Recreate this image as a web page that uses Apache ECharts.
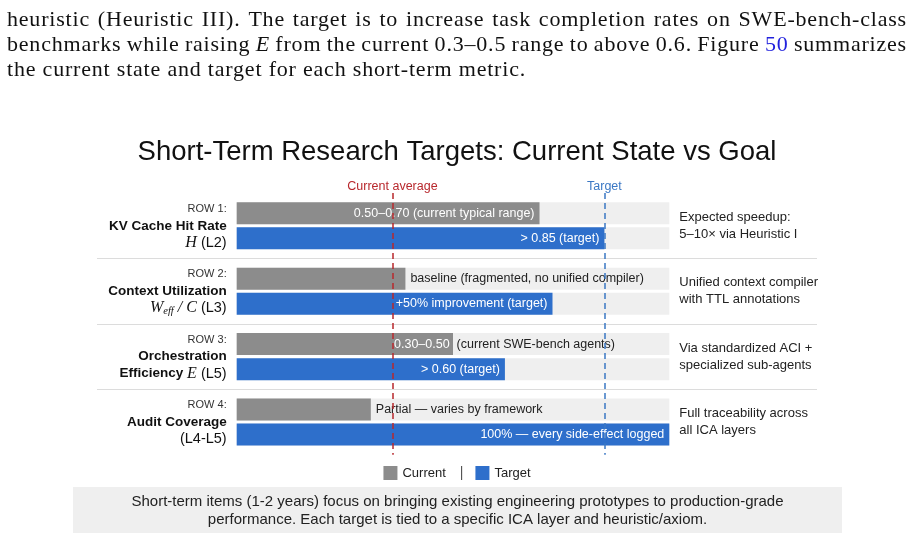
<!DOCTYPE html>
<html><head><meta charset="utf-8">
<script src="https://cdn.jsdelivr.net/npm/echarts@6/dist/echarts.min.js"></script>
<style>
html,body{margin:0;padding:0;background:#fff;}
#wrap{position:relative;width:914px;height:540px;overflow:hidden;}
#chart{position:absolute;left:0;top:0;width:914px;height:540px;}
#para{position:absolute;left:7px;top:6px;width:900px;font-family:'Liberation Serif','Times New Roman',serif;font-size:22px;line-height:25px;color:#111;letter-spacing:0.8px;}
.ln{display:flex;justify-content:space-between;white-space:nowrap;}
.ln3{white-space:nowrap;}
.fig{color:#2222dd;}
</style>
</head><body>
<div id="wrap">
<div id="chart"></div>
<div id="para"></div>
</div>
<script>
// ---- data ----
const categories = ['ROW 1', 'ROW 2', 'ROW 3', 'ROW 4'];
const rowTags = ['ROW 1:', 'ROW 2:', 'ROW 3:', 'ROW 4:'];
const rowTitles = ['KV Cache Hit Rate', 'Context Utilization', 'Orchestration', 'Audit Coverage'];
const rowSubtitles = ['{m|H}{r| (L2)}', '{m|W}{s|eff}{sl| / }{m|C}{r| (L3)}', '{b|Efficiency }{m|E}{r| (L5)}', '{r|(L4-L5)}'];
const currentValues = [0.70, 0.39, 0.50, 0.31];
const targetValues = [0.85, 0.73, 0.62, 1.00];
const currentInsideText = ['0.50–0.70 (current typical range)', '', '0.30–0.50', ''];
const currentOutsideText = ['', 'baseline (fragmented, no unified compiler)', '(current SWE-bench agents)', 'Partial — varies by framework'];
const targetText = ['> 0.85 (target)', '+50% improvement (target)', '> 0.60 (target)', '100% — every side-effect logged'];
const notes = [
  ['Expected speedup:', '5–10× via Heuristic I'],
  ['Unified context compiler', 'with TTL annotations'],
  ['Via standardized ACI +', 'specialized sub-agents'],
  ['Full traceability across', 'all ICA layers']
];
const currentAverage = 0.356;
const targetLevel = 0.848;
const xMin = 0, xMax = 1;
const titleText = 'Short-Term Research Targets: Current State vs Goal';
const seriesNames = ['Current', 'Target'];
const captionLines = ['Short-term items (1-2 years) focus on bringing existing engineering prototypes to production-grade', 'performance. Each target is tied to a specific ICA layer and heuristic/axiom.'];
const paraLines = [
  'heuristic (Heuristic III). The target is to increase task completion rates on SWE-bench-class',
  'benchmarks while raising <i>E</i> from the current 0.3–0.5 range to above 0.6. Figure <span class="fig">50</span> summarizes'
];
const paraLast = 'the current state and target for each short-term metric.';

// ---- paragraph ----
const para = document.getElementById('para');
paraLines.forEach(l => {
  const d = document.createElement('div'); d.className = 'ln';
  const tokens = l.replace(/<i>E<\/i>/, '§I').replace(/<span class="fig">50<\/span>/, '§F').split(' ');
  tokens.forEach(t => {
    const s = document.createElement('span');
    s.innerHTML = t.replace('§I', '<i>E</i>').replace('§F', '<span class="fig">50</span>');
    d.appendChild(s);
  });
  para.appendChild(d);
});
const d3 = document.createElement('div'); d3.className = 'ln3'; d3.textContent = paraLast; para.appendChild(d3);

// ---- chart ----
const FONT = "'Liberation Sans', Arial, Helvetica, sans-serif";
const GRAY = '#8c8c8c', BLUE = '#2e6fcb', RED = '#b8282d', TBLUE = '#3b78c4';
const chart = echarts.init(document.getElementById('chart'), null, {renderer: 'canvas'});

const currentData = currentValues.map((v, i) => {
  const inside = currentInsideText[i], outside = currentOutsideText[i];
  let label;
  if (inside && outside) {
    label = {show: true, position: ['100%', '50%'], align: 'left', verticalAlign: 'middle', offset: [-59, 0],
      formatter: '{w|' + inside + '}{d|' + outside + '}',
      rich: {w: {color: '#fff', fontSize: 12.5, fontFamily: FONT}, d: {color: '#222', fontSize: 12.5, fontFamily: FONT, padding: [0, 0, 0, 7]}}};
  } else if (inside) {
    label = {show: true, position: 'insideRight', distance: 5, color: '#fff', formatter: inside};
  } else {
    label = {show: true, position: 'right', distance: 5, color: '#222', formatter: outside};
  }
  return {value: v, label: label};
});
const targetData = targetValues.map((v, i) => ({value: v, label: {show: true, position: 'insideRight', distance: 5, color: '#fff', formatter: targetText[i]}}));

const serifM = "'Liberation Serif', 'DejaVu Serif', serif";
const option = {
  animation: false,
  backgroundColor: '#ffffff',
  textStyle: {fontFamily: FONT},
  title: {text: titleText, left: 'center', top: 133, textStyle: {fontSize: 27.5, fontWeight: 'normal', color: '#111', fontFamily: FONT}},
  legend: {
    data: seriesNames, top: 461, left: 'center', icon: 'rect', itemWidth: 14, itemHeight: 14, itemGap: 12,
    textStyle: {fontSize: 13, color: '#222', fontFamily: FONT, rich: {sep: {color: '#555', fontSize: 14, padding: [0, 0, 0, 14]}}},
    formatter: n => n === 'Current' ? 'Current{sep||}' : n
  },
  grid: [
    {left: 236.7, top: 193.1, width: 432.6, height: 261.6},
    {left: 97, top: 193.1, width: 720, height: 261.6}
  ],
  xAxis: [
    {gridIndex: 0, type: 'value', min: xMin, max: xMax, show: false},
    {gridIndex: 1, type: 'value', min: xMin, max: xMax, show: false}
  ],
  yAxis: [
    {gridIndex: 0, type: 'category', data: categories, inverse: true, position: 'left',
      axisLine: {show: false}, axisTick: {show: false}, splitLine: {show: false},
      axisLabel: {margin: 10, align: 'right',
        formatter: (v, i) => '{t|' + rowTags[i] + '}\n{b|' + rowTitles[i] + '}\n' + rowSubtitles[i],
        rich: {
          t: {fontSize: 11, color: '#333', lineHeight: 17, fontFamily: FONT},
          b: {fontSize: 13.5, fontWeight: 'bold', color: '#111', lineHeight: 17, fontFamily: FONT},
          r: {fontSize: 14.5, color: '#111', lineHeight: 17, fontFamily: FONT},
          m: {fontSize: 16, fontStyle: 'italic', color: '#111', lineHeight: 17, fontFamily: serifM},
          s: {fontSize: 10.5, fontStyle: 'italic', color: '#111', lineHeight: 10, verticalAlign: 'bottom', fontFamily: serifM},
          sl: {fontSize: 16, fontStyle: 'italic', color: '#111', lineHeight: 17, fontFamily: serifM}
        }}},
    {gridIndex: 0, type: 'category', data: categories, inverse: true, position: 'right',
      axisLine: {show: false}, axisTick: {show: false}, splitLine: {show: false},
      axisLabel: {margin: 10, align: 'left', fontSize: 13, lineHeight: 17, color: '#222', fontFamily: FONT,
        formatter: (v, i) => notes[i].join('\n')}},
    {gridIndex: 1, type: 'category', data: categories, inverse: true,
      axisLine: {show: false}, axisTick: {show: false}, axisLabel: {show: false},
      splitLine: {show: true, showMinLine: false, showMaxLine: false, lineStyle: {color: '#dcdcdc', width: 1}}}
  ],
  series: [
    {name: 'Current', type: 'bar', xAxisIndex: 0, yAxisIndex: 0, barWidth: 22, barGap: '14%', z: 3,
      showBackground: true, backgroundStyle: {color: '#efefef'},
      itemStyle: {color: GRAY}, label: {fontSize: 12.5, fontFamily: FONT},
      data: currentData,
      markLine: {silent: true, symbol: 'none', animation: false,
        data: [
          {xAxis: currentAverage, lineStyle: {color: RED, type: [6, 4], width: 1.5},
            label: {show: true, position: 'start', distance: 0, formatter: 'Current average', color: RED, fontSize: 12.5, fontFamily: FONT}},
          {xAxis: targetLevel, lineStyle: {color: TBLUE, type: [6, 4], width: 1.5},
            label: {show: true, position: 'start', distance: 0, formatter: 'Target', color: TBLUE, fontSize: 12.5, fontFamily: FONT}}
        ]}},
    {name: 'Target', type: 'bar', xAxisIndex: 0, yAxisIndex: 0, barWidth: 22, barGap: '14%', z: 3,
      showBackground: true, backgroundStyle: {color: '#efefef'},
      itemStyle: {color: BLUE}, label: {fontSize: 12.5, fontFamily: FONT},
      data: targetData}
  ],
  graphic: [
    {type: 'rect', left: 73, top: 487, shape: {width: 769, height: 46}, style: {fill: '#efefef'}, z: 0},
    {type: 'text', x: 457.5, y: 511, style: {text: captionLines.join('\n'), fontSize: 15, lineHeight: 18, fill: '#222', align: 'center', textAlign: 'center', verticalAlign: 'middle', textVerticalAlign: 'middle', fontFamily: FONT}, z: 1}
  ]
};
chart.setOption(option);
</script>
</body></html>
